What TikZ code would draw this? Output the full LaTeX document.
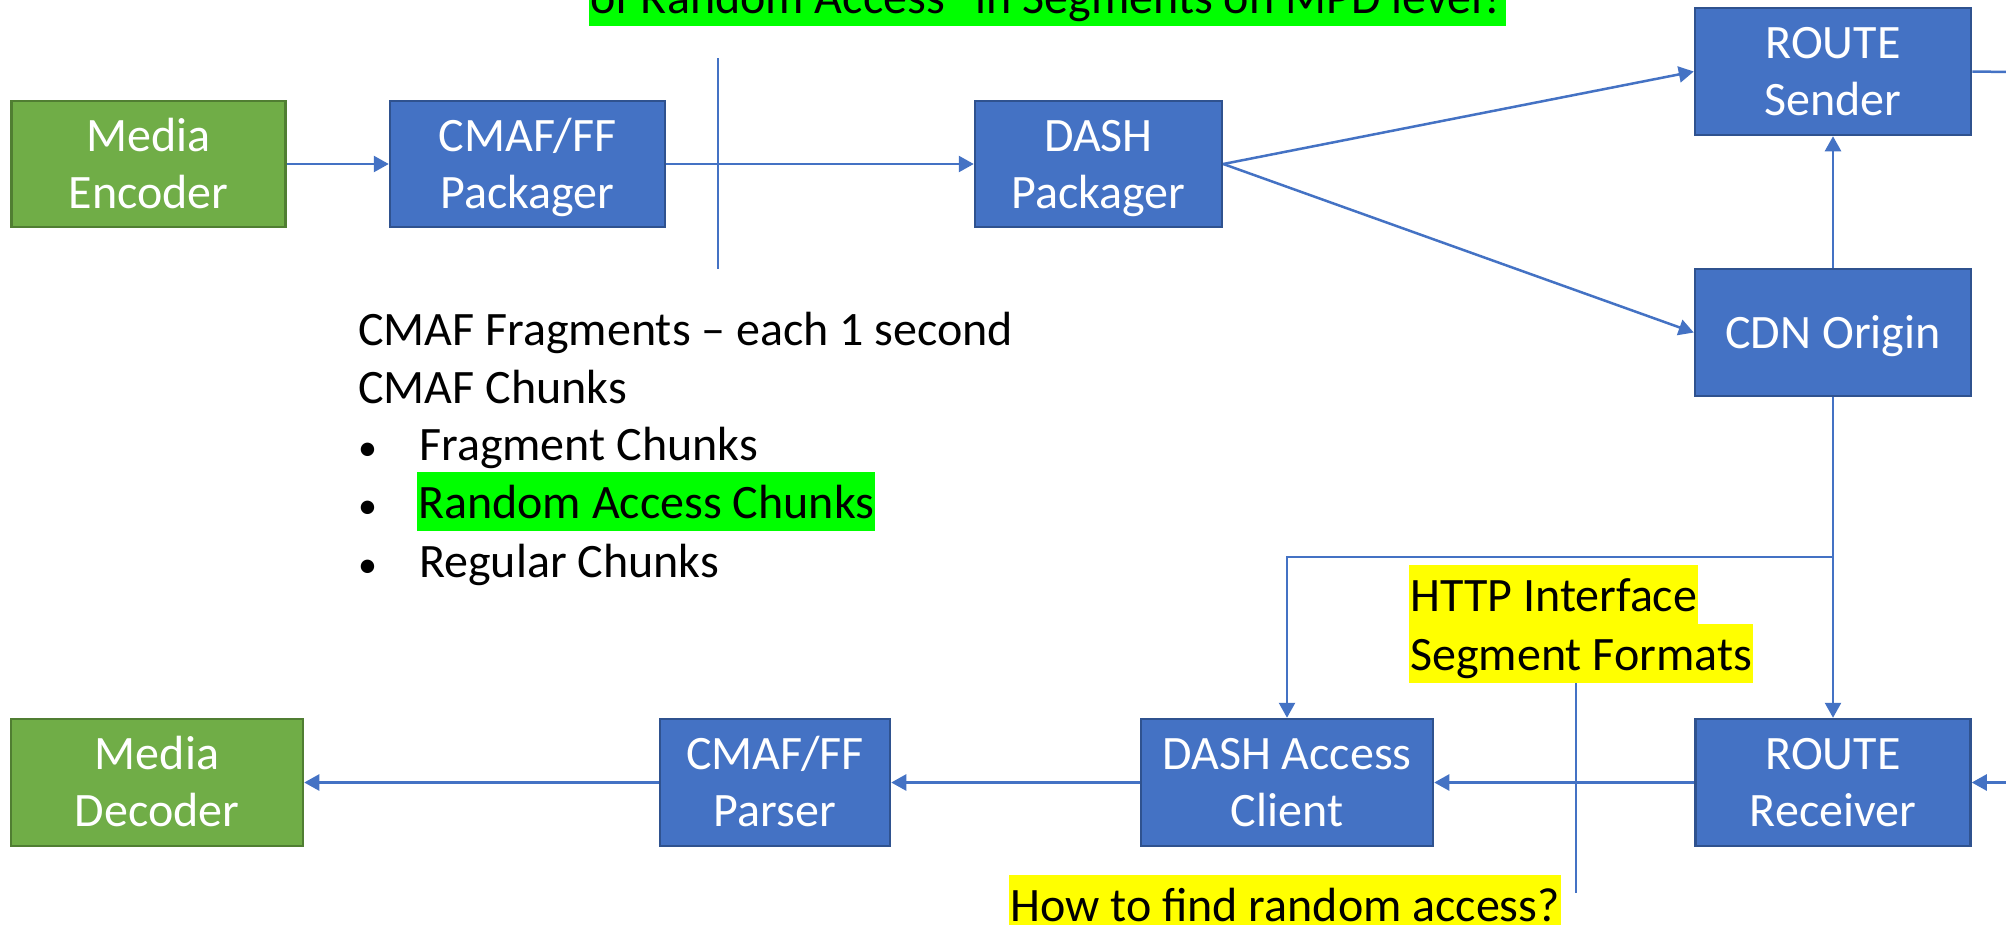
\documentclass[tikz,border=0pt]{standalone}
\usepackage{fontspec}
\setmainfont{Carlito}
\usetikzlibrary{arrows.meta}
\definecolor{boxblue}{HTML}{4472C4}
\definecolor{boxblueedge}{HTML}{2F528F}
\definecolor{boxgreen}{HTML}{70AD47}
\definecolor{boxgreenedge}{HTML}{507E32}
\definecolor{hlgreen}{HTML}{00FF00}
\definecolor{hlyellow}{HTML}{FFFF00}
\newcommand\lnstrut{\rule[-13pt]{0pt}{57pt}}
\tikzset{
  proc/.style={rectangle, fill=boxblue, draw=boxblueedge, line width=2.5pt,
    text=white, align=center, inner sep=0pt, minimum height=126pt,
    font=\fontsize{48}{57}\selectfont},
  media/.style={proc, fill=boxgreen, draw=boxgreenedge},
  conn/.style={draw=boxblue, line width=2.5pt, -{Triangle[width=16pt,length=15pt]}},
  plainconn/.style={draw=boxblue, line width=2.5pt},
  sep/.style={draw=boxblue, line width=1.2pt},
  txt/.style={anchor=base west, inner sep=0pt, font=\fontsize{48}{57}\selectfont},
  bul/.style={anchor=base west, inner sep=0pt, font=\fontsize{38}{57}\selectfont},
  hl/.style={txt, inner xsep=1pt, text height=46pt, text depth=13pt}
}
\begin{document}
\begin{tikzpicture}[x=1pt,y=-1pt]
\useasboundingbox (0,0) rectangle (2006,924);
\clip (0,0) rectangle (2006,924);
\fill[white] (0,0) rectangle (2006,924);

% boxes
\node[media, minimum width=274pt] (enc) at (148.5,164) {\lnstrut Media\\\lnstrut Encoder};
\node[proc, minimum width=275pt] (pkg) at (527.5,164) {\lnstrut CMAF/FF\\\lnstrut Packager};
\node[proc, minimum width=247pt] (dpk) at (1098.5,164) {\lnstrut DASH\\\lnstrut Packager};
\node[proc, minimum width=276pt, minimum height=127pt] (rs) at (1833,71.5) {\lnstrut ROUTE\\\lnstrut Sender};
\node[proc, minimum width=276pt, minimum height=127pt] (cdn) at (1833,332.5) {\lnstrut CDN Origin};
\node[media, minimum width=292pt, minimum height=127pt] (dec) at (157,782.5) {\lnstrut Media\\\lnstrut Decoder};
\node[proc, minimum width=230pt, minimum height=127pt] (par) at (775,782.5) {\lnstrut CMAF/FF\\\lnstrut Parser};
\node[proc, minimum width=292pt, minimum height=127pt] (dac) at (1287,782.5) {\lnstrut DASH Access\\\lnstrut Client};
\node[proc, minimum width=275pt, minimum height=127pt] (rr) at (1833,782.5) {\lnstrut ROUTE\\\lnstrut Receiver};

% free ends
\coordinate (rsout) at (2010,72);
\coordinate (rrin) at (2010,782.5);
\coordinate (j) at (1833,557);
\coordinate (sepAtop) at (718,58);
\coordinate (sepAbot) at (718,269);
\coordinate (sepBtop) at (1576,682);
\coordinate (sepBbot) at (1576,893);

% separators
\draw[sep] (sepAtop) -- (sepAbot);
\draw[sep] (sepBtop) -- (sepBbot);

% connectors
\draw[conn] (enc.east) -- (pkg.west);
\draw[conn] (pkg.east) -- (dpk.west);
\draw[conn] (dpk.east) -- (rs.west);
\draw[conn] (dpk.east) -- (cdn.west);
\draw[conn] (cdn.north) -- (rs.south);
\draw[plainconn] (rs.east) -- (rsout);
\draw[plainconn] (cdn.south) -- (j);
\draw[conn] (j) -| (dac.north);
\draw[conn] (j) -- (rr.north);
\draw[conn] (rrin) -- (rr.east);
\draw[conn] (rr.west) -- (dac.east);
\draw[conn] (dac.west) -- (par.east);
\draw[conn] (par.west) -- (dec.east);

% texts
\node[hl, fill=hlgreen] (top) at (589,13) {of Random Access'' in Segments on MPD level?};

\node[txt] (t1) at (358,345) {CMAF Fragments – each 1 second};
\node[txt] (t2) at (358,403) {CMAF Chunks};
\node[bul] (b1) at (358,460) {•};
\node[txt] (t3) at (419,460) {Fragment Chunks};
\node[bul] (b2) at (358,518) {•};
\node[hl, fill=hlgreen] (t4) at (417,518) {Random Access Chunks};
\node[bul] (b3) at (358,577) {•};
\node[txt] (t5) at (419,577) {Regular Chunks};

\node[hl, fill=hlyellow] (h1) at (1409,611) {HTTP Interface};
\node[hl, fill=hlyellow] (h2) at (1409,670) {Segment Formats};
\node[hl, fill=hlyellow] (q) at (1009,921) {How to find random access?};
\end{tikzpicture}
\end{document}
